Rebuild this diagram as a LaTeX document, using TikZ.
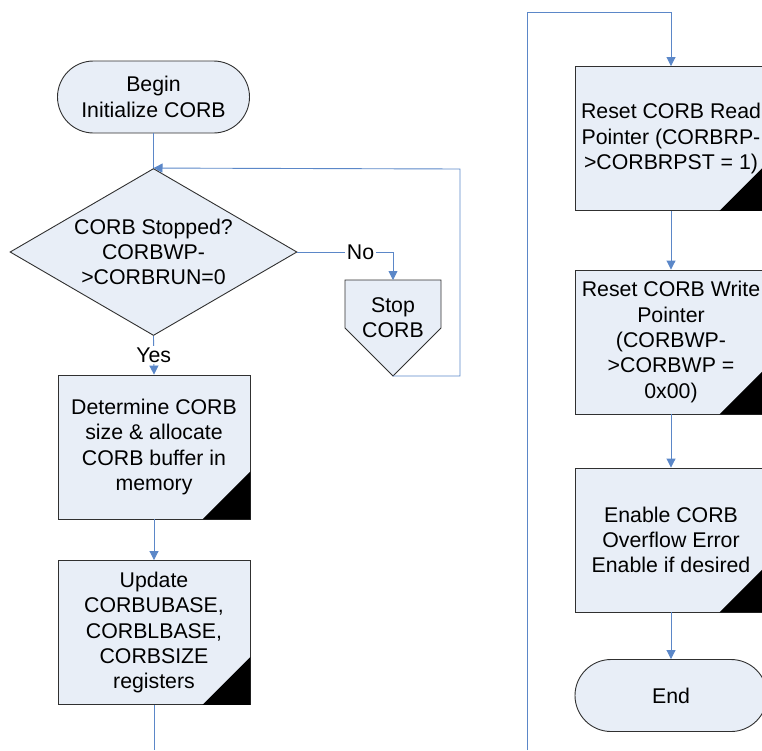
\documentclass[tikz,border=0pt]{standalone}
\usepackage{fontspec}
\setmainfont{Liberation Sans}
\usetikzlibrary{shapes.geometric,arrows.meta,calc}
\definecolor{boxfill}{HTML}{E8EEF7}
\definecolor{linkblue}{HTML}{5B87C8}
\definecolor{border}{HTML}{303030}
\tikzset{
  every node/.style={font=\fontsize{21.3}{25.3}\selectfont, align=center, inner sep=0pt},
  procbox/.style={draw=border, fill=boxfill, line width=0.9pt, minimum width=192, minimum height=144},
  termbox/.style={draw=border, fill=boxfill, line width=0.9pt, minimum width=192, minimum height=72, rounded corners=36},
  decbox/.style={draw=border, fill=boxfill, line width=0.9pt, shape=diamond, aspect=1.72, minimum width=287, minimum height=167},
  link/.style={draw=linkblue, line width=0.9pt, -{Triangle[length=9pt,width=9pt]}},
  plainlink/.style={draw=linkblue, line width=0.9pt},
  lbl/.style={fill=white, inner sep=1.5pt}
}
\begin{document}
\begin{tikzpicture}[x=1pt,y=-1pt]
\useasboundingbox (0,0) rectangle (762,750);
\clip (0,0) rectangle (762,750);
% left column
\node[termbox] (begin) at (153.5,97) {Begin\\Initialize CORB};
\node[decbox] (dec) at (153.5,252) {CORB Stopped?\\CORBWP-\\>CORBRUN=0};
\node[procbox] (b1) at (154,447) {Determine CORB\\size \& allocate\\CORB buffer in\\memory};
\node[procbox] (b2) at (154,632.5) {Update\\CORBUBASE,\\CORBLBASE,\\CORBSIZE\\registers};
\foreach \b in {b1,b2}{
  \fill[black] (\b.south east) -- ++(-48,0) -- ($(\b.south east)+(0,-48)$) -- cycle;
}
% stop corb off-page shape
\coordinate (stoptop) at (393,280);
\coordinate (stopbot) at (393,376);
\draw[draw=border, fill=boxfill, line width=0.9pt] (345,280) -- (441,280) -- (441,328) -- (stopbot) -- (345,328) -- cycle;
\node (stop) at (393,318) {Stop\\CORB};
\coordinate (loopbr) at (460,376);
\coordinate (looptr) at (460,169);
\coordinate (leftend) at (154,750);
% right column
\node[procbox] (r1) at (671,138.5) {Reset CORB Read\\Pointer (CORBRP-\\>CORBRPST = 1)};
\node[procbox] (r2) at (671,342) {Reset CORB Write\\Pointer\\(CORBWP-\\>CORBWP =\\0x00)};
\node[procbox] (r3) at (671,540) {Enable CORB\\Overflow Error\\Enable if desired};
\node[termbox] (end) at (671,695.5) {End};
\foreach \b in {r1,r2,r3}{
  \fill[black] (\b.south east) -- ++(-48,0) -- ($(\b.south east)+(0,-48)$) -- cycle;
}
\coordinate (rightstart) at (527,750);
\coordinate (rtopl) at (527,12);
\coordinate (rtopr) at (671,12);
% connectors
\draw[plainlink] (begin.south) -- (dec.north);
\draw[link] (stopbot) -- (loopbr) -- (looptr) -- (dec.north);
\draw[link] (dec.east) -| node[lbl, pos=0.33] {No} (stoptop);
\draw[link] (dec.south) -- node[lbl, pos=0.5] {Yes} (b1.north);
\draw[link] (b1.south) -- (b2.north);
\draw[plainlink] (b2.south) -- (leftend);
\draw[link] (rightstart) -- (rtopl) -- (rtopr) -- (r1.north);
\draw[link] (r1.south) -- (r2.north);
\draw[link] (r2.south) -- (r3.north);
\draw[link] (r3.south) -- (end.north);
\end{tikzpicture}
\end{document}
